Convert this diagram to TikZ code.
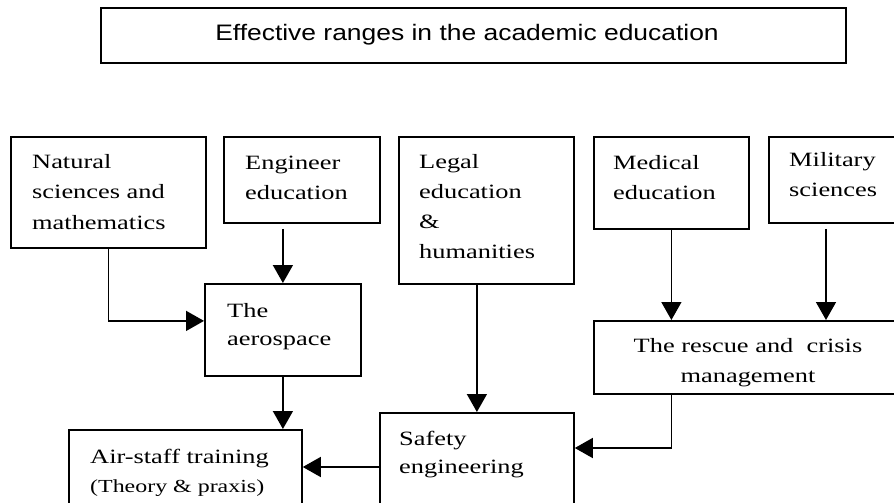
\documentclass[tikz,border=0pt]{standalone}
\usepackage{fontspec}
\setmainfont[FakeStretch=1.3]{Liberation Serif}
\newfontfamily\titlefont[FakeStretch=1.18]{Liberation Sans}
\usetikzlibrary{arrows.meta,calc}
\begin{document}
\begin{tikzpicture}[x=1pt,y=-1pt,
  box/.style={draw,line width=1.8pt,rectangle,inner sep=0pt,anchor=north west},
  lbl/.style={inner sep=0pt,anchor=base west,align=left},
  arr/.style={line width=1.5pt,-{Triangle[width=20pt,length=18pt]}}]
\useasboundingbox (0,0) rectangle (894,503);
\clip (0,0) rectangle (894,503);
% title
\node[box,minimum width=745pt,minimum height=55pt] (title) at (100,7) {};
\node[inner sep=0pt,anchor=base,font=\titlefont\fontsize{22.4}{26}\selectfont] (titletxt) at (467,41) {Effective ranges in the academic education};
% top row
\node[box,minimum width=195pt,minimum height=111pt] (nat) at (10,136) {};
\node[lbl,font=\fontsize{20.3}{30.5}\selectfont] (nattxt) at (32,229) {Natural\\sciences and\\mathematics};
\node[box,minimum width=156pt,minimum height=86pt] (eng) at (223,136) {};
\node[lbl,font=\fontsize{20.3}{29.5}\selectfont] (engtxt) at (245,199) {Engineer\\education};
\node[box,minimum width=175pt,minimum height=147pt] (leg) at (398,136) {};
\node[lbl,font=\fontsize{20.3}{29.7}\selectfont] (legtxt) at (419,258) {Legal\\education\\\&\\humanities};
\node[box,minimum width=155pt,minimum height=92pt] (med) at (593,136) {};
\node[lbl,font=\fontsize{20.3}{30}\selectfont] (medtxt) at (613,199) {Medical\\education};
\node[box,minimum width=135pt,minimum height=86pt] (mil) at (768,136) {};
\node[lbl,font=\fontsize{20.3}{29.5}\selectfont] (miltxt) at (789,196) {Military\\sciences};
% middle
\node[box,minimum width=156pt,minimum height=92pt] (aer) at (204,283) {};
\node[lbl,font=\fontsize{20.3}{28}\selectfont] (aertxt) at (227,345) {The\\aerospace};
\node[box,minimum width=310pt,minimum height=73pt] (resc) at (593,320) {};
\node[inner sep=0pt,anchor=base,align=center,font=\fontsize{20.3}{30}\selectfont] (resctxt) at (748,382) {The rescue and~~crisis\\management};
% bottom
\node[box,minimum width=233pt,minimum height=120pt] (air) at (68,429) {};
\node[lbl,font=\fontsize{20.3}{29}\selectfont] (airtxt) at (90,492) {Air-staff training\\{\fontsize{18.4}{29}\selectfont(Theory \& praxis)}};
\node[box,minimum width=194pt,minimum height=130pt] (saf) at (379,412) {};
\node[lbl,font=\fontsize{20.3}{28}\selectfont] (saftxt) at (399,473) {Safety\\engineering};
% connectors
\draw[arr] (nat.south) |- ([yshift=9pt]aer.west);
\draw[arr] ([yshift=-5pt]aer.north |- eng.south) -- (aer.north);
\draw[arr] (med.south) -- (med.south |- resc.north);
\coordinate (milx) at ([xshift=58pt]mil.south west);
\draw[arr] ([yshift=-5pt]milx) -- (milx |- resc.north);
\draw[arr] (saf.north |- leg.south) -- (saf.north);
\draw[arr] (aer.south) -- (aer.south |- air.north);
\coordinate (safin) at ([yshift=-36pt]saf.north east);
\draw[arr] (resc.south -| med.south) |- (safin);
\coordinate (safout) at ([yshift=-55pt]saf.north west);
\draw[arr] (safout) -- (safout -| air.east);
\end{tikzpicture}
\end{document}
